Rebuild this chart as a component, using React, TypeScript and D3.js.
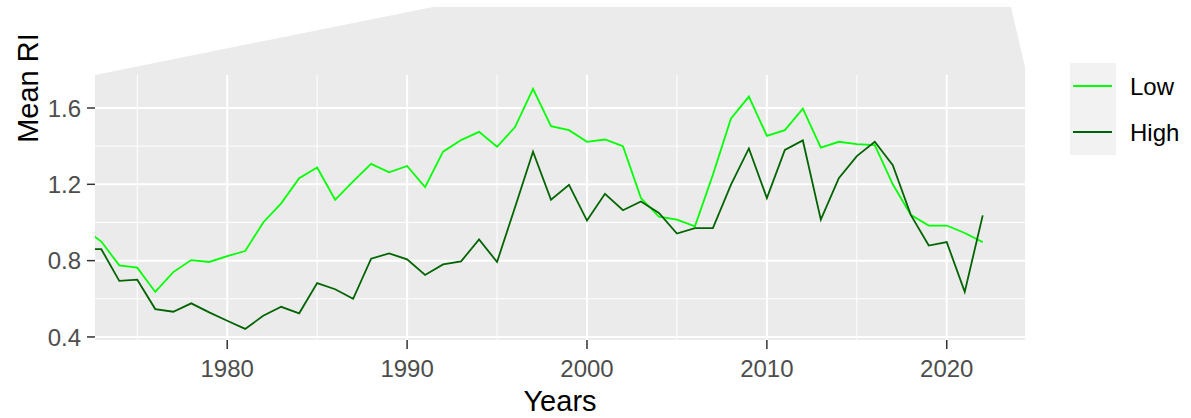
import React from "react";
import * as d3 from "d3";

const years = d3.range(1972, 2023);

const lowValues = [
  0.97, 0.9, 0.775, 0.763, 0.636, 0.74, 0.803, 0.793, 0.824, 0.85,
  1.0, 1.1, 1.232, 1.288, 1.119, 1.215, 1.307, 1.263, 1.296, 1.185,
  1.371, 1.432, 1.475, 1.397, 1.5, 1.7, 1.505, 1.484, 1.423, 1.435,
  1.4, 1.128, 1.03, 1.015, 0.98, 1.25, 1.544, 1.66, 1.454, 1.484,
  1.597, 1.392, 1.423, 1.411, 1.406, 1.2, 1.04, 0.984, 0.984, 0.945,
  0.897,
];

const highValues = [
  0.86, 0.86, 0.694, 0.7, 0.546, 0.532, 0.576, 0.529, 0.485, 0.442,
  0.511, 0.558, 0.524, 0.682, 0.65, 0.6, 0.81, 0.838, 0.807, 0.725,
  0.78, 0.796, 0.911, 0.793, 1.08, 1.371, 1.119, 1.197, 1.01, 1.15,
  1.064, 1.11, 1.05, 0.942, 0.97, 0.97, 1.197, 1.388, 1.128, 1.38,
  1.43, 1.015, 1.232, 1.348, 1.423, 1.3, 1.04, 0.879, 0.897, 0.636,
  1.037,
];

const seriesNames = ["Low", "High"];
const seriesColors = ["#00ff00", "#006400"];

const yTicks = [0.4, 0.8, 1.2, 1.6];
const yMinor = [0.6, 1.0, 1.4];
const xTicks = [1980, 1990, 2000, 2010, 2020];
const xMinor = [1975, 1985, 1995, 2005, 2015];

const W = 1191;
const H = 418;
const PL = 95;
const PR = 1025;
const PT = 75;
const PB = 340;
const FONT = "'Liberation Sans', Arial, sans-serif";

export default function App() {
  const x = d3.scaleLinear().domain([1972.65, 2024.35]).range([PL, PR]);
  const y = d3.scaleLinear().domain([0.384, 1.773]).range([PB, PT]);

  const line = d3
    .line<number>()
    .x((_, i) => x(years[i]))
    .y((d) => y(d));

  const series = [lowValues, highValues];

  // odd grey shape above the panel, as in the source image
  const bgShape = `M${PL},${PT} L433,7 L1011,7 L${PR},67 L${PR},${PB} L${PL},${PB} Z`;

  return (
    <svg
      width={W}
      height={H}
      style={{ position: "absolute", left: 0, top: 0, background: "#fff" }}
      fontFamily={FONT}
    >
      <defs>
        <clipPath id="panel">
          <rect x={PL} y={PT} width={PR - PL} height={PB - PT} />
        </clipPath>
      </defs>

      <path d={bgShape} fill="#ebebeb" />

      {/* grid */}
      {yMinor.map((t) => (
        <line key={"ym" + t} x1={PL} x2={PR} y1={y(t)} y2={y(t)} stroke="#fff" strokeWidth={1} />
      ))}
      {xMinor.map((t) => (
        <line key={"xm" + t} x1={x(t)} x2={x(t)} y1={PT} y2={PB} stroke="#fff" strokeWidth={1} />
      ))}
      {yTicks.map((t) => (
        <line key={"y" + t} x1={PL} x2={PR} y1={y(t)} y2={y(t)} stroke="#fff" strokeWidth={2} />
      ))}
      {xTicks.map((t) => (
        <line key={"x" + t} x1={x(t)} x2={x(t)} y1={PT} y2={PB} stroke="#fff" strokeWidth={2} />
      ))}

      {/* lines */}
      <g clipPath="url(#panel)">
        {series.map((s, i) => (
          <path key={seriesNames[i]} d={line(s) ?? ""} fill="none" stroke={seriesColors[i]} strokeWidth={1.8} />
        ))}
      </g>

      {/* y axis */}
      {yTicks.map((t) => (
        <g key={"yt" + t}>
          <line x1={PL - 8} x2={PL} y1={y(t)} y2={y(t)} stroke="#333" strokeWidth={1.5} />
          <text x={PL - 14} y={y(t)} dy="0.36em" textAnchor="end" fontSize={24} fill="#4d4d4d">
            {t.toFixed(1)}
          </text>
        </g>
      ))}

      {/* x axis */}
      {xTicks.map((t) => (
        <g key={"xt" + t}>
          <line x1={x(t)} x2={x(t)} y1={PB} y2={PB + 9} stroke="#333" strokeWidth={1.5} />
          <text x={x(t)} y={377} textAnchor="middle" fontSize={24} fill="#4d4d4d">
            {t}
          </text>
        </g>
      ))}

      <text x={(PL + PR) / 2} y={411} textAnchor="middle" fontSize={29} fill="#000">
        Years
      </text>
      <text transform="translate(38,88) rotate(-90)" textAnchor="middle" fontSize={29} fill="#000">
        Mean RI
      </text>

      {/* legend */}
      {seriesNames.map((name, i) => (
        <g key={"lg" + name} transform={`translate(1070,${63 + i * 46})`}>
          <rect width={46} height={46} fill="#f2f2f2" />
          <line x1={3} x2={42} y1={23} y2={23} stroke={seriesColors[i]} strokeWidth={1.8} />
          <text x={60} y={23} dy="0.36em" fontSize={24} fill="#000">
            {name}
          </text>
        </g>
      ))}
    </svg>
  );
}
